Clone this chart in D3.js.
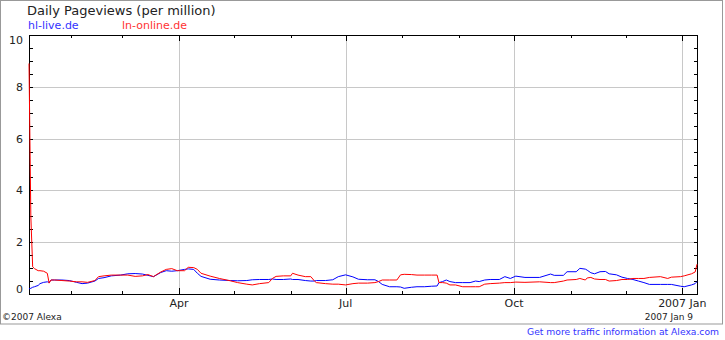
<!DOCTYPE html>
<html lang="en">
    <head>
        <meta charset="utf-8">
        <title>Daily Pageviews</title>
        <script src="https://d3js.org/d3.v7.min.js"></script>
        <style>
            body { margin: 0; background: #fff; }
            text { font-family: "DejaVu Sans", Verdana, sans-serif; }
        </style>
    </head>
    <body>
        <div class="chart"></div>
        <script type="text/javascript">
            // dates shared by both series
            var dates = ["2006-01-09","2006-01-10","2006-01-11","2006-01-12","2006-01-14","2006-01-15","2006-01-17","2006-01-19","2006-01-20","2006-01-21",
                "2006-01-23","2006-01-27","2006-01-31","2006-02-04","2006-02-07","2006-02-10","2006-02-14","2006-02-16","2006-02-19","2006-02-23",
                "2006-02-28","2006-03-04","2006-03-08","2006-03-12","2006-03-15","2006-03-18","2006-03-22","2006-03-25","2006-03-28","2006-03-31",
                "2006-04-04","2006-04-06","2006-04-09","2006-04-11","2006-04-13","2006-04-18","2006-04-23","2006-04-29","2006-05-03","2006-05-08",
                "2006-05-11","2006-05-15","2006-05-20","2006-05-22","2006-05-24","2006-05-28","2006-06-01","2006-06-02","2006-06-05","2006-06-09",
                "2006-06-12","2006-06-14","2006-06-15","2006-06-20","2006-06-24","2006-06-27","2006-07-01","2006-07-05","2006-07-08","2006-07-13",
                "2006-07-17","2006-07-19","2006-07-21","2006-07-25","2006-07-29","2006-07-31","2006-08-02","2006-08-06","2006-08-09","2006-08-13",
                "2006-08-17","2006-08-20","2006-08-21","2006-08-23","2006-08-25","2006-08-27","2006-08-30","2006-09-03","2006-09-07","2006-09-10",
                "2006-09-12","2006-09-15","2006-09-18","2006-09-23","2006-09-26","2006-09-29","2006-10-02","2006-10-07","2006-10-15","2006-10-21",
                "2006-10-23","2006-10-28","2006-10-30","2006-11-04","2006-11-06","2006-11-09","2006-11-10","2006-11-12","2006-11-14","2006-11-17",
                "2006-11-20","2006-11-22","2006-11-26","2006-11-29","2006-12-02","2006-12-05","2006-12-08","2006-12-11","2006-12-14","2006-12-20",
                "2006-12-24","2006-12-26","2006-12-31","2007-01-02","2007-01-06","2007-01-08","2007-01-09"];
            // hl-live.de (blue)
            var hlLive = [0.2,0.22,0.26,0.28,0.33,0.4,0.45,0.47,0.45,0.54,
                0.54,0.54,0.52,0.45,0.4,0.42,0.5,0.6,0.63,0.7,
                0.73,0.78,0.79,0.77,0.72,0.67,0.83,0.9,0.88,0.9,
                0.95,0.97,0.95,0.8,0.68,0.57,0.54,0.52,0.51,0.52,
                0.55,0.56,0.56,0.58,0.56,0.56,0.58,0.56,0.56,0.52,
                0.5,0.5,0.52,0.52,0.55,0.67,0.74,0.66,0.57,0.55,
                0.55,0.48,0.37,0.28,0.28,0.27,0.22,0.26,0.28,0.28,
                0.3,0.31,0.44,0.48,0.54,0.48,0.44,0.44,0.44,0.5,
                0.48,0.54,0.56,0.56,0.67,0.6,0.69,0.64,0.64,0.77,
                0.72,0.72,0.86,0.86,0.99,0.96,0.92,0.82,0.78,0.86,
                0.87,0.78,0.74,0.65,0.6,0.56,0.5,0.44,0.37,0.37,
                0.37,0.37,0.3,0.28,0.35,0.4,0.48];
            // ln-online.de (red)
            var lnOnline = [8.9,3.0,1.05,0.98,0.9,0.9,0.88,0.8,0.42,0.54,
                0.54,0.52,0.5,0.47,0.47,0.45,0.52,0.67,0.7,0.73,
                0.73,0.73,0.68,0.7,0.75,0.67,0.85,0.95,0.98,0.9,
                0.9,1.03,1.02,0.95,0.8,0.69,0.6,0.51,0.44,0.38,
                0.35,0.4,0.44,0.6,0.68,0.7,0.7,0.8,0.73,0.67,
                0.67,0.5,0.44,0.4,0.38,0.38,0.35,0.4,0.42,0.42,
                0.44,0.48,0.54,0.54,0.54,0.74,0.76,0.75,0.73,0.73,
                0.73,0.73,0.44,0.44,0.42,0.35,0.35,0.28,0.28,0.28,
                0.28,0.38,0.4,0.42,0.44,0.44,0.46,0.45,0.47,0.44,
                0.44,0.5,0.54,0.56,0.6,0.54,0.62,0.64,0.58,0.56,
                0.56,0.5,0.52,0.56,0.56,0.6,0.6,0.6,0.64,0.67,
                0.6,0.65,0.67,0.7,0.78,0.85,1.15];
            var seriesNames = ["hl-live.de", "ln-online.de"];
            var seriesColors = ["#0000ff", "#ff0000"];
            var yLabels = [0, 2, 4, 6, 8, 10];
            var monthLabels = {"Apr": "Apr", "Jul": "Jul", "Oct": "Oct", "Jan": "2007 Jan"};

            var w = 725, h = 340;
            var pLeft = 29, pRight = 697, pTop = 35, pBottom = 294;
            var parse = d3.utcParse("%Y-%m-%d");

            var svg = d3.select("div.chart")
                        .append("svg")
                        .attr("width", w)
                        .attr("height", h);

            // outer gray box
            svg.append("rect")
                .attr("x", 0.5).attr("y", 0.5)
                .attr("width", 722).attr("height", 323.5)
                .attr("fill", "#fff").attr("stroke", "#999");

            var x = d3.scaleUtc()
                      .domain([parse(dates[0]), parse(dates[dates.length - 1])])
                      .range([pLeft, pRight]);
            var y = d3.scaleLinear().domain([0, 10]).range([pBottom, pTop]);

            var months = x.ticks(d3.utcMonth.every(1));
            var majorMonths = months.filter(function(d) { return d.getUTCMonth() % 3 == 0; });
            var fmtMonth = d3.utcFormat("%b");

            // gridlines
            svg.append("g").selectAll("line")
                .data([2, 4, 6, 8]).enter().append("line")
                .attr("x1", pLeft).attr("x2", pRight)
                .attr("y1", function(d) { return Math.round(y(d)) + 0.5; })
                .attr("y2", function(d) { return Math.round(y(d)) + 0.5; })
                .attr("stroke", "#c8c8c8");
            svg.append("g").selectAll("line")
                .data(majorMonths).enter().append("line")
                .attr("x1", function(d) { return Math.round(x(d)) + 0.5; })
                .attr("x2", function(d) { return Math.round(x(d)) + 0.5; })
                .attr("y1", pTop).attr("y2", pBottom)
                .attr("stroke", "#c8c8c8");

            // frame
            svg.append("rect")
                .attr("x", pLeft + 0.5).attr("y", pTop + 0.5)
                .attr("width", pRight - pLeft).attr("height", pBottom - pTop)
                .attr("fill", "none").attr("stroke", "#000");

            // x ticks on bottom and top, pointing inward
            var tickG = svg.append("g").attr("stroke", "#000");
            months.forEach(function(d) {
                var len = d.getUTCMonth() % 3 == 0 ? 6 : 3;
                var xx = Math.round(x(d)) + 0.5;
                tickG.append("line").attr("x1", xx).attr("x2", xx).attr("y1", pBottom).attr("y2", pBottom - len);
                tickG.append("line").attr("x1", xx).attr("x2", xx).attr("y1", pTop).attr("y2", pTop + len);
            });
            // y ticks every 0.5 on both sides
            d3.range(0.5, 10, 0.5).forEach(function(v) {
                var yy = Math.round(y(v)) + 0.5;
                tickG.append("line").attr("x1", pLeft).attr("x2", pLeft + 4).attr("y1", yy).attr("y2", yy);
                tickG.append("line").attr("x1", pRight - 3).attr("x2", pRight + 1).attr("y1", yy).attr("y2", yy);
            });

            // y labels
            svg.append("g").selectAll("text")
                .data(yLabels).enter().append("text")
                .attr("x", 23)
                .attr("y", function(d) {
                    var yy = y(d);
                    if (d == 10) yy += 5;
                    if (d == 0) yy -= 5;
                    return yy + 4;
                })
                .attr("text-anchor", "end")
                .attr("font-size", 11)
                .attr("fill", "#222")
                .text(function(d) { return d; });

            // x labels
            svg.append("g").selectAll("text")
                .data(majorMonths).enter().append("text")
                .attr("x", function(d) { return x(d); })
                .attr("y", 307)
                .attr("text-anchor", "middle")
                .attr("font-size", 11)
                .attr("fill", "#222")
                .text(function(d) { return monthLabels[fmtMonth(d)]; });

            // series lines
            var line = d3.line()
                         .x(function(d) { return x(parse(d[0])); })
                         .y(function(d) { return y(d[1]); });
            [hlLive, lnOnline].forEach(function(vals, i) {
                svg.append("path")
                    .datum(dates.map(function(dt, k) { return [dt, vals[k]]; }))
                    .attr("fill", "none")
                    .attr("stroke", seriesColors[i])
                    .attr("stroke-width", 1)
                    .attr("d", line);
            });

            // title and legend
            svg.append("text")
                .attr("x", 27).attr("y", 15)
                .attr("font-size", 13).attr("fill", "#222")
                .text("Daily Pageviews (per million)");
            svg.selectAll("text.legend")
                .data(seriesNames).enter().append("text")
                .attr("class", "legend")
                .attr("x", function(d, i) { return i == 0 ? 28 : 122; })
                .attr("y", 29)
                .attr("font-size", 11)
                .attr("fill", function(d, i) { return i == 0 ? "#3333ff" : "#ff3333"; })
                .text(function(d) { return d; });

            // footer
            svg.append("text").attr("x", 2).attr("y", 320)
                .attr("font-size", 9).attr("fill", "#222").text("\u00a92007 Alexa");
            svg.append("text").attr("x", 693).attr("y", 320).attr("text-anchor", "end")
                .attr("font-size", 9).attr("fill", "#222").text("2007 Jan 9");
            svg.append("text").attr("x", 719).attr("y", 335).attr("text-anchor", "end")
                .attr("font-size", 9.2).attr("fill", "#3333ff")
                .text("Get more traffic information at Alexa.com");
        </script>
    </body>
</html>
